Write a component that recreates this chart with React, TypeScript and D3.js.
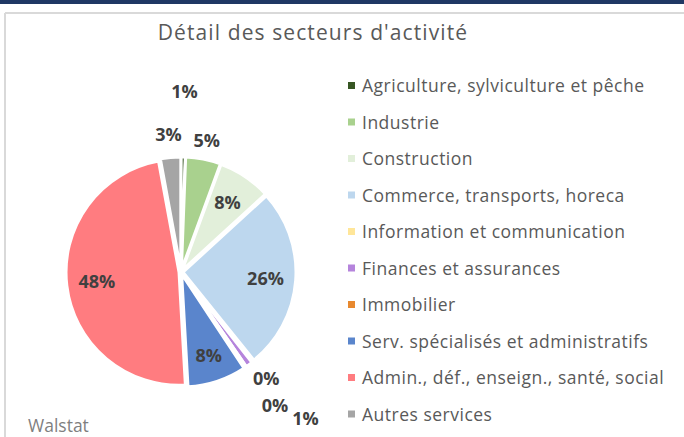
import React from "react";
import { pie, arc } from "d3";

const sectors = [
  "Agriculture, sylviculture et pêche",
  "Industrie",
  "Construction",
  "Commerce, transports, horeca",
  "Information et communication",
  "Finances et assurances",
  "Immobilier",
  "Serv. spécialisés et administratifs",
  "Admin., déf., enseign., santé, social",
  "Autres services",
];
const shares = [0.6, 5.0, 7.6, 26.0, 0.2, 1.0, 0.3, 8.4, 48.0, 2.9];
const colors = [
  "#375623", "#a9d18e", "#e2efda", "#bdd7ee", "#ffe699",
  "#b584dc", "#e8892f", "#5a85cc", "#ff7c80", "#a5a5a5",
];
// where each percentage sits: multiple of the radius, and a small turn in degrees
const labelRadius = [1.6, 1.18, 0.74, 0.75, 1.21, 1.7, 1.45, 0.78, 0.75, 1.22];
const labelTurn = [0, 0, 0, 0, 0, -4, -1, 0, 0, 0];

const width = 684;
const height = 437;
const cx = 181;
const cy = 272;
const R = 113;

const App = () => {
  const slices = pie<number>().sort(null).value((d) => d)(shares);
  const pieArc = arc<any>().innerRadius(0).outerRadius(R);

  return (
    <svg
      width={width}
      height={height}
      style={{ position: "absolute", left: 0, top: 0, background: "#fff" }}
      fontFamily="'Open Sans', sans-serif"
    >
      {/* frame */}
      <rect x={0} y={0} width={width} height={4} fill="#203864" />
      <line x1={5} y1={13} x2={width} y2={13} stroke="#d9d9d9" strokeWidth={2} />
      <line x1={5} y1={13} x2={5} y2={height} stroke="#d9d9d9" strokeWidth={2} />

      <text x={313} y={40} textAnchor="middle" fontSize={21} letterSpacing={1.1} fill="#595959">
        Détail des secteurs d'activité
      </text>

      <g transform={`translate(${cx},${cy})`}>
        {slices.map((s, i) => {
          const mid = (s.startAngle + s.endAngle) / 2;
          const dx = Math.sin(mid) * 2;
          const dy = -Math.cos(mid) * 2;
          return (
            <path
              key={i}
              d={pieArc(s) || ""}
              transform={`translate(${dx},${dy})`}
              fill={colors[i]}
              stroke="#fff"
              strokeWidth={3}
              strokeLinejoin="round"
            />
          );
        })}
        {slices.map((s, i) => {
          const mid = (s.startAngle + s.endAngle) / 2 + (labelTurn[i] * Math.PI) / 180;
          const r = labelRadius[i] * R;
          return (
            <text
              key={i}
              x={Math.sin(mid) * r}
              y={-Math.cos(mid) * r}
              dy="0.35em"
              textAnchor="middle"
              fontSize={18}
              fontWeight="bold"
              fill="#404040"
            >
              {Math.round(shares[i])}%
            </text>
          );
        })}
      </g>

      <g>
        {sectors.map((name, i) => {
          const y = 85.5 + i * 36.5;
          return (
            <g key={name}>
              <rect x={348} y={y - 3.5} width={7} height={7} fill={colors[i]} />
              <text x={362} y={y + 6.5} fontSize={17.5} letterSpacing={0.5} fill="#595959">
                {name}
              </text>
            </g>
          );
        })}
      </g>

      <text x={28} y={432} fontSize={17.5} fill="#7f7f7f">
        Walstat
      </text>
    </svg>
  );
};

export default App;
